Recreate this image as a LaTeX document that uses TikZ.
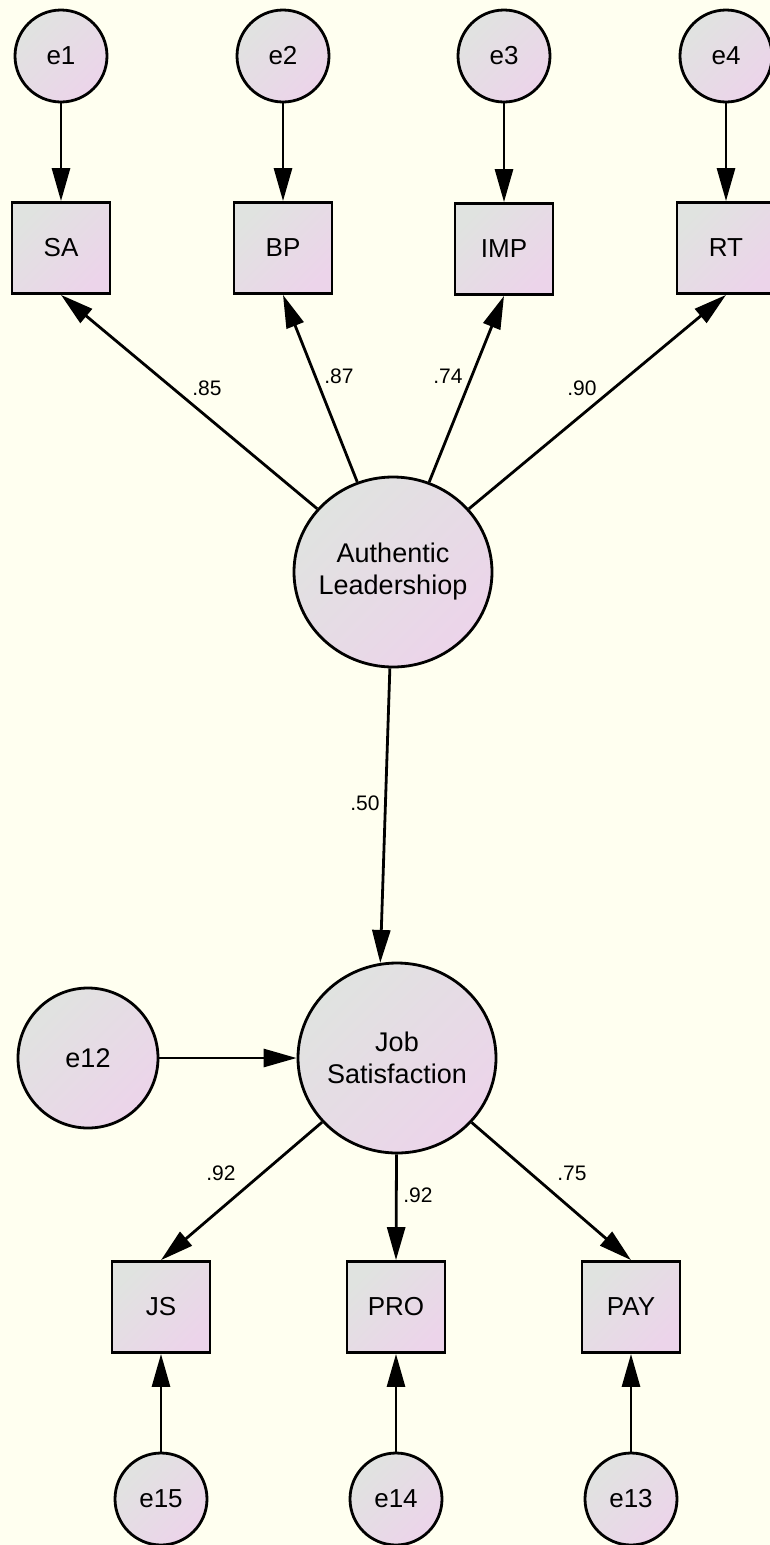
\documentclass[tikz,border=0pt]{standalone}
\usepackage{fontspec}
\setmainfont{Liberation Sans}
\usetikzlibrary{arrows.meta,shapes.geometric}
\definecolor{bgc}{RGB}{255,255,240}
\definecolor{gA}{RGB}{224,227,224}
\definecolor{gB}{RGB}{236,212,234}
\begin{document}
\begin{tikzpicture}[x=1pt,y=-1pt,
 shd/.style={top color=gA,bottom color=gB,shading angle=45,draw=black,line width=2.8pt},
 errn/.style={shd,circle,minimum size=92pt,inner sep=0pt,font=\fontsize{26}{30}\selectfont},
 obsn/.style={shd,rectangle,minimum width=98pt,minimum height=91pt,inner sep=0pt,font=\fontsize{26}{30}\selectfont},
 latn/.style={shd,ellipse,minimum width=198pt,minimum height=190pt,inner sep=0pt,align=center,font=\fontsize{27}{32}\selectfont},
 arr/.style={line width=2.8pt,-{Triangle[length=33pt,width=18pt]}},
 lab/.style={font=\fontsize{21}{24}\selectfont,text=black}
]
\path[use as bounding box,fill=bgc] (0,0) rectangle (770,1545);

\node[errn] (e1) at (61,56) {e1};
\node[errn] (e2) at (283,56) {e2};
\node[errn] (e3) at (504,56) {e3};
\node[errn] (e4) at (726,56) {e4};

\node[obsn] (SA) at (61,248) {SA};
\node[obsn] (BP) at (283,248) {BP};
\node[obsn] (IMP) at (504,249) {IMP};
\node[obsn] (RT) at (726,248) {RT};

\node[latn] (AL) at (393,572) {\makebox[0pt]{Authentic}\\\makebox[0pt]{Leadershiop}};
\node[latn] (JSat) at (397,1058) {\makebox[0pt]{Job}\\\makebox[0pt]{Satisfaction}};
\node[errn,minimum size=140pt,font=\fontsize{27}{30}\selectfont] (e12) at (88,1058) {e12};

\node[obsn] (JS) at (161,1307) {JS};
\node[obsn] (PRO) at (396,1307) {PRO};
\node[obsn] (PAY) at (631,1307) {PAY};

\node[errn] (e15) at (161,1499) {e15};
\node[errn] (e14) at (396,1499) {e14};
\node[errn] (e13) at (631,1499) {e13};

\draw[arr] (e1) -- (SA);
\draw[arr] (e2) -- (BP);
\draw[arr] (e3) -- (IMP);
\draw[arr] (e4) -- (RT);

\draw[arr] (AL) -- (SA.south);
\draw[arr] (AL) -- (BP.south);
\draw[arr] (AL) -- (IMP.south);
\draw[arr] (AL) -- (RT.south);

\draw[arr] (AL) -- (JSat.100);
\draw[arr] (e12) -- (JSat);

\draw[arr] (JSat) -- (JS.north);
\draw[arr] (JSat) -- (PRO.north);
\draw[arr] (JSat) -- (PAY.north);

\draw[arr] (e15) -- (JS);
\draw[arr] (e14) -- (PRO);
\draw[arr] (e13) -- (PAY);

\node[lab] (l1) at (207,388) {.85};
\node[lab] (l2) at (339,376) {.87};
\node[lab] (l3) at (448,376) {.74};
\node[lab] (l4) at (582,388) {.90};
\node[lab] (l5) at (365,803) {.50};
\node[lab] (l6) at (221,1173) {.92};
\node[lab] (l7) at (418,1195) {.92};
\node[lab] (l8) at (572,1173) {.75};
\end{tikzpicture}
\end{document}
